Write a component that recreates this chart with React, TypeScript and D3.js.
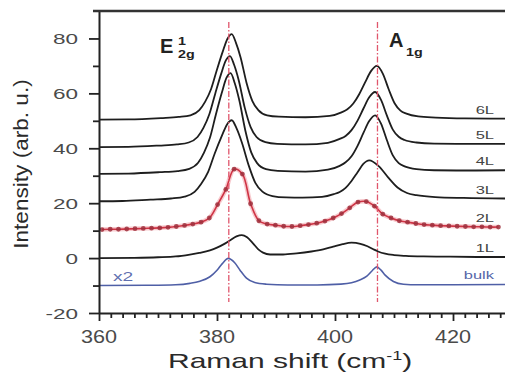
import * as d3 from "d3";
import { useEffect, useRef } from "react";

type Pt = [number, number];

// tick values
const xMajor = [360, 380, 400, 420];
const xMinor = d3.range(362, 430, 2).filter((v) => v % 20 !== 0);
const yMajor = [-20, 0, 20, 40, 60, 80];
const yMinor = [-10, 10, 30, 50, 70];

// spectra: [Raman shift, intensity]
const sixL: Pt[] = [
  [360, 50.4], [365, 50.5], [370.5, 51.0], [373.5, 51.4], [375.5, 52.0], [377, 53.9], [378, 57.0],
  [379, 61.6], [380, 68.7], [381, 75.4], [381.8, 80.0], [382.5, 81.6], [383.2, 78.5], [384, 73.1],
  [385, 63.9], [386, 57.2], [387, 53.9], [388.5, 52.0], [390.5, 51.5], [395, 51.3], [399.1, 51.8],
  [401.1, 53.1], [402.1, 54.2], [403.1, 56.3], [404.1, 59.7], [405.1, 64.0], [406.1, 68.1],
  [407.1, 70.0], [408.1, 67.2], [409.1, 61.5], [410.1, 56.4], [411.1, 53.7], [412.1, 52.6],
  [414.1, 51.6], [417.1, 51.2], [422, 50.9], [429, 50.8],
];

const fiveL: Pt[] = [
  [360, 40.4], [365, 40.5], [370.2, 41.0], [373.2, 41.4], [375.2, 42.1], [376.7, 44.1], [377.7, 47.4],
  [378.7, 52.4], [379.7, 59.9], [380.7, 67.1], [381.5, 72.0], [382.2, 73.6], [382.9, 70.4],
  [383.7, 64.6], [384.7, 54.8], [385.7, 47.7], [386.7, 44.1], [388.2, 42.2], [390.2, 41.6],
  [395, 41.4], [398.8, 42.0], [400.8, 43.4], [401.8, 44.5], [402.8, 46.6], [403.8, 50.0],
  [404.8, 54.4], [405.8, 58.6], [406.8, 60.5], [407.8, 57.6], [408.8, 51.9], [409.8, 46.8],
  [410.8, 44.2], [411.8, 43.0], [413.8, 42.1], [416.8, 41.7], [422, 41.6], [429, 41.6],
];

const fourL: Pt[] = [
  [360, 30.7], [365, 30.8], [370.3, 31.3], [373.3, 31.7], [375.3, 32.5], [376.8, 34.7], [377.8, 38.4],
  [378.8, 43.8], [379.8, 52.2], [380.8, 60.1], [381.6, 65.6], [382.3, 67.4], [383.0, 63.8],
  [383.8, 57.3], [384.8, 46.5], [385.8, 38.5], [386.8, 34.6], [388.3, 32.4], [390.3, 31.8],
  [395, 31.5], [398.8, 32.2], [400.8, 33.6], [401.8, 34.9], [402.8, 37.1], [403.8, 40.8],
  [404.8, 45.5], [405.8, 49.9], [406.8, 52.0], [407.8, 49.0], [408.8, 42.9], [409.8, 37.4],
  [410.8, 34.6], [411.8, 33.4], [413.8, 32.4], [416.8, 32.0], [422, 31.9], [429, 32.0],
];

const threeL: Pt[] = [
  [360, 20.7], [364, 20.8], [368.7, 21.3], [372.2, 21.7], [374.5, 22.4], [376.2, 24.1], [377.3, 27.0],
  [378.5, 31.4], [379.6, 38.0], [380.8, 44.4], [381.7, 48.7], [382.5, 50.2], [383.3, 47.3],
  [384.2, 42.2], [385.4, 33.6], [386.5, 27.4], [387.7, 24.2], [389.4, 22.6], [391.7, 22.1],
  [394.5, 22.0], [397.8, 22.3], [399.8, 23.3], [400.8, 24.1], [401.8, 25.6], [402.8, 28.1],
  [403.8, 31.2], [404.8, 34.3], [405.8, 35.6], [407.4, 33.5], [409.0, 29.4], [410.6, 25.7],
  [412.2, 23.7], [413.8, 22.9], [417.0, 22.2], [421.8, 21.9], [429, 21.7],
];

// 2L: measured points (dots), fitted line drawn through them
const twoL: Pt[] = [
  [360.5, 10.4], [361.9, 10.5], [363.3, 10.5], [364.7, 10.6], [366.1, 10.7], [367.5, 10.8],
  [368.9, 10.9], [370.3, 11.0], [371.7, 11.2], [373.1, 11.5], [374.5, 11.9], [375.9, 12.4],
  [377.3, 13.1], [378.7, 14.6], [380.1, 19.5], [381.5, 25.0], [382.9, 32.4], [384.3, 30.6],
  [385.7, 19.8], [387.1, 13.6], [388.5, 12.4], [389.9, 12.0], [391.3, 11.6], [392.7, 11.5],
  [394.1, 11.8], [395.5, 12.2], [396.9, 12.7], [398.3, 13.5], [399.7, 14.6], [401.1, 16.2],
  [402.5, 18.3], [403.9, 20.4], [405.3, 20.6], [406.7, 18.9], [408.1, 16.0], [409.5, 14.6],
  [410.9, 13.6], [412.3, 13.1], [413.7, 12.6], [415.1, 12.2], [416.5, 12.0], [417.9, 11.8],
  [419.3, 11.7], [420.7, 11.6], [422.1, 11.5], [423.5, 11.4], [424.9, 11.4], [426.3, 11.3],
  [427.7, 11.3],
];

const oneL: Pt[] = [
  [360, 0.0], [366, 0.1], [370, 0.3], [373, 0.6], [375.4, 1.3], [377, 1.9], [378.8, 2.8], [380, 3.8],
  [381.1, 5.0], [382.3, 6.6], [383.3, 7.9], [384.2, 8.4], [385.1, 7.6], [386.1, 5.4], [387, 3.2],
  [387.8, 2.0], [389, 1.3], [391.2, 1.3], [393.5, 1.7], [396, 2.4], [398, 3.2], [399.7, 4.2],
  [401.3, 5.1], [402.8, 5.6], [404.3, 5.2], [405.5, 4.3], [406.5, 3.2], [407.3, 2.4], [408.5, 1.6],
  [410, 1.1], [412, 0.8], [415, 0.6], [419.5, 0.5], [425, 0.4], [429, 0.4],
];

const bulk: Pt[] = [
  [360, -10.0], [368, -9.9], [373, -9.7], [375.4, -9.2], [377.1, -8.4], [378.8, -6.8], [380.0, -4.4],
  [380.9, -2.0], [381.9, -0.1], [383.0, -1.7], [383.9, -4.4], [385.0, -7.3], [386.4, -8.9],
  [388.4, -9.5], [392, -9.8], [397, -9.8], [401, -9.5], [402.8, -9.0], [404.2, -8.0], [405.4, -6.6],
  [406.3, -4.6], [407.1, -3.2], [407.8, -4.4], [408.5, -6.2], [409.9, -8.5], [411.6, -9.5],
  [414, -9.7], [420, -9.7], [429, -9.6],
];

const layerNames = ["6L", "5L", "4L", "3L", "2L", "1L", "bulk"];
const peakShifts = [382, 407.2];
const markerSpan = [-16, 86];

const W = 505;
const H = 374;
const FONT = "'Liberation Sans', Arial, sans-serif";

const App = () => {
  const ref = useRef<SVGSVGElement | null>(null);

  useEffect(() => {
    if (!ref.current) return;
    const svg = d3.select(ref.current);
    svg.selectAll("*").remove();

    const x = d3.scaleLinear().domain([360, 430]).range([99, 512]);
    const y = d3.scaleLinear().domain([-20, 90]).range([313, 11]);

    svg
      .append("defs")
      .append("clipPath")
      .attr("id", "plot")
      .append("rect")
      .attr("x", 99)
      .attr("y", 11)
      .attr("width", W - 99)
      .attr("height", 302);

    const plot = svg.append("g").attr("clip-path", "url(#plot)");

    const line = d3
      .line<Pt>()
      .x((d) => x(d[0]))
      .y((d) => y(d[1]))
      .curve(d3.curveMonotoneX);

    const blacks = [sixL, fiveL, fourL, threeL, oneL];
    plot
      .selectAll("path.black")
      .data(blacks)
      .join("path")
      .attr("class", "black")
      .attr("d", (d) => line(d))
      .attr("fill", "none")
      .attr("stroke", "#1e1e1e")
      .attr("stroke-width", 1.8);

    plot
      .append("path")
      .attr("d", line(bulk))
      .attr("fill", "none")
      .attr("stroke", "#4f5fa6")
      .attr("stroke-width", 1.6);

    const fit = d3
      .line<Pt>()
      .x((d) => x(d[0]))
      .y((d) => y(d[1]))
      .curve(d3.curveCatmullRom);

    plot
      .append("path")
      .attr("d", fit(twoL))
      .attr("fill", "none")
      .attr("stroke", "#f2a6ae")
      .attr("stroke-width", 4.5)
      .attr("opacity", 0.6);
    plot
      .append("path")
      .attr("d", fit(twoL))
      .attr("fill", "none")
      .attr("stroke", "#cf3445")
      .attr("stroke-width", 1.6);
    plot
      .selectAll("circle")
      .data(twoL)
      .join("circle")
      .attr("cx", (d) => x(d[0]))
      .attr("cy", (d) => y(d[1]))
      .attr("r", 2.4)
      .attr("fill", "#9e2f3c")
      .attr("opacity", 0.85);

    // peak position markers
    plot
      .selectAll("line.marker")
      .data(peakShifts)
      .join("line")
      .attr("class", "marker")
      .attr("x1", (d) => x(d))
      .attr("x2", (d) => x(d))
      .attr("y1", y(markerSpan[1]))
      .attr("y2", y(markerSpan[0]))
      .attr("stroke", "#e0566c")
      .attr("stroke-width", 1.3)
      .attr("stroke-dasharray", "6 2 1.5 2");

    // axes
    const styleAxis = (g: d3.Selection<SVGGElement, unknown, null, undefined>) => {
      g.select(".domain").attr("stroke", "#222").attr("stroke-width", 2);
      g.selectAll(".tick line").attr("stroke", "#222").attr("stroke-width", 1.8);
    };

    svg
      .append("g")
      .attr("transform", "translate(99,0)")
      .call(d3.axisLeft(y).tickValues(yMajor).tickSize(10).tickSizeOuter(0).tickFormat(() => ""))
      .call(styleAxis);
    svg
      .append("g")
      .attr("transform", "translate(99,0)")
      .call(d3.axisLeft(y).tickValues(yMinor).tickSize(6).tickSizeOuter(0).tickFormat(() => ""))
      .call((g) => g.select(".domain").remove())
      .call(styleAxis);
    svg
      .append("g")
      .attr("transform", "translate(0,313)")
      .call(d3.axisBottom(x).tickValues(xMajor).tickSize(8).tickSizeOuter(0).tickFormat(() => ""))
      .call(styleAxis);
    svg
      .append("g")
      .attr("transform", "translate(0,313)")
      .call(d3.axisBottom(x).tickValues(xMinor).tickSize(5).tickSizeOuter(0).tickFormat(() => ""))
      .call((g) => g.select(".domain").remove())
      .call(styleAxis);

    svg
      .append("line")
      .attr("x1", 93)
      .attr("x2", W)
      .attr("y1", 11)
      .attr("y2", 11)
      .attr("stroke", "#333")
      .attr("stroke-width", 2.5);

    // stretched text helper
    const label = (
      tx: number,
      ty: number,
      text: string,
      size: number,
      sx: number,
      anchor: string,
      color: string,
      weight = "normal",
    ) =>
      svg
        .append("text")
        .attr("transform", `translate(${tx},${ty}) scale(${sx},1)`)
        .attr("text-anchor", anchor)
        .attr("font-family", FONT)
        .attr("font-size", size)
        .attr("font-weight", weight)
        .attr("fill", color)
        .text(text);

    yMajor.forEach((v) => label(78, y(v) + 5.5, String(v), 15, 1.5, "end", "#4a4a4a"));
    xMajor.forEach((v) => label(x(v), 343, String(v), 18, 1.2, "middle", "#4a4a4a"));

    // axis titles
    const xt = svg
      .append("text")
      .attr("transform", "translate(168,368) scale(1.5,1)")
      .attr("font-family", FONT)
      .attr("font-size", 20)
      .attr("fill", "#2a2a2a");
    xt.append("tspan").text("Raman shift (cm");
    xt.append("tspan").attr("font-size", 12).attr("dy", -8).text("-1");
    xt.append("tspan").attr("dy", 8).text(")");

    svg
      .append("text")
      .attr("transform", "translate(28,164) rotate(-90) scale(1.13,1)")
      .attr("text-anchor", "middle")
      .attr("font-family", FONT)
      .attr("font-size", 20)
      .attr("fill", "#2a2a2a")
      .text("Intensity (arb. u.)");

    // mode labels
    label(160, 53, "E", 20, 1.0, "start", "#222", "bold");
    label(178, 45, "1", 11, 1.3, "start", "#222", "bold");
    label(178, 58, "2g", 11, 1.3, "start", "#222", "bold");
    label(389, 47, "A", 20, 1.0, "start", "#222", "bold");
    label(406, 56, "1g", 11, 1.3, "start", "#222", "bold");

    // layer labels at the right end of each curve
    const ends = [sixL, fiveL, fourL, threeL, twoL, oneL, bulk].map((s) => s[s.length - 1][1]);
    layerNames.forEach((n, i) =>
      label(494, y(ends[i]) - 5, n, 11, 1.5, "end", n === "bulk" ? "#5565a8" : "#444"),
    );
    label(113, 281, "x2", 12, 1.6, "start", "#6070b0");
  }, []);

  return (
    <svg
      ref={ref}
      width={W}
      height={H}
      style={{ position: "absolute", left: 0, top: 0, background: "#fff" }}
    />
  );
};

export default App;
